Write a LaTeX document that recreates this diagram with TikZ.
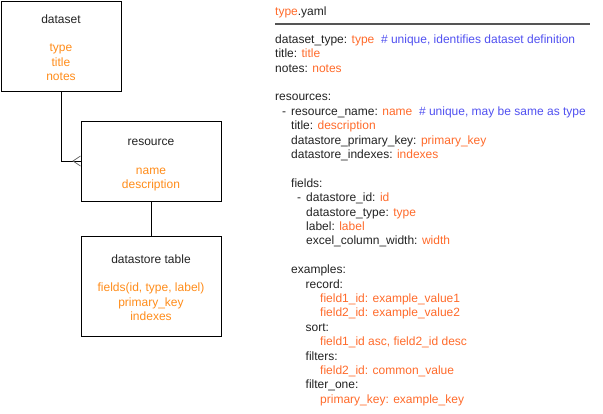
\documentclass[tikz,border=0pt]{standalone}
\usepackage{fontspec}
\setmainfont{Liberation Sans}
\usetikzlibrary{calc}
\definecolor{boxor}{HTML}{FF8C1A}
\definecolor{yor}{HTML}{FF6A2A}
\definecolor{yblue}{HTML}{5050F0}
\definecolor{ink}{HTML}{222222}
\definecolor{rule}{HTML}{555555}
\newcommand{\Or}[1]{\textcolor{yor}{#1}}
\newcommand{\Bl}[1]{\textcolor{yblue}{#1}}
\newcommand{\Dash}{\makebox[9pt][l]{-}}
\begin{document}
\begin{tikzpicture}[x=1pt,y=-1pt,
  box/.style={draw=black,line width=1pt,inner sep=0pt},
  btxt/.style={anchor=base,inner sep=0pt,font=\fontsize{12}{14.4}\selectfont,text=ink},
  bor/.style={btxt,text=boxor},
  yl/.style={anchor=base west,inner sep=0pt,font=\fontsize{12}{14.4}\selectfont,text=ink},
  conn/.style={draw=black,line width=1pt},
  crow/.style={draw=black!60,line width=0.8pt}]
\useasboundingbox (0,0) rectangle (603,413);

% boxes
\node[box,minimum width=120pt,minimum height=90pt] (dataset) at (61,46) {};
\node[box,minimum width=140pt,minimum height=80pt] (resource) at (151,161) {};
\node[box,minimum width=140pt,minimum height=100pt] (dstable) at (151,286) {};

% box texts
\node[btxt] (t1) at (61,23) {dataset};
\node[bor] (t2) at (61,51.8) {type};
\node[bor] (t3) at (61,66.2) {title};
\node[bor] (t4) at (61,80.6) {notes};

\node[btxt] (r1) at (151,145.2) {resource};
\node[bor] (r2) at (151,174) {name};
\node[bor] (r3) at (151,188.4) {description};

\node[btxt] (d1) at (151,263) {datastore table};
\node[bor] (d2) at (151,291.8) {fields(id, type, label)};
\node[bor] (d3) at (151,306.2) {primary\_key};
\node[bor] (d4) at (151,320.6) {indexes};

% connectors
\draw[conn] (dataset.south) |- (resource.west);
\coordinate (cfa) at ($(resource.west)+(-7.5,0)$);
\coordinate (cfb) at ($(resource.west)+(0,-5)$);
\coordinate (cfc) at ($(resource.west)+(0,5)$);
\draw[crow] (cfb) -- (cfa) -- (cfc);
\draw[conn] (resource.south) -- (dstable.north);

% yaml text
\node[yl] (y0) at (275,15) {\Or{type}.yaml};
\coordinate (hl) at (275,24);
\coordinate (hr) at (590,24);
\draw[rule,line width=1.3pt] (hl) -- (hr);

\node[yl] (l0) at (275,43.3) {dataset\_type: \Or{type}~~\Bl{\# unique, identifies dataset definition}};
\node[yl] (l1) at (275,57.7) {title: \Or{title}};
\node[yl] (l2) at (275,72.1) {notes: \Or{notes}};
\node[yl] (l4) at (275,100.9) {resources:};
\node[yl] (l5) at (282,115.3) {\Dash resource\_name: \Or{name}~~\Bl{\# unique, may be same as type}};
\node[yl] (l6) at (291,129.7) {title: \Or{description}};
\node[yl] (l7) at (291,144.1) {datastore\_primary\_key: \Or{primary\_key}};
\node[yl] (l8) at (291,158.5) {datastore\_indexes: \Or{indexes}};
\node[yl] (l10) at (291,187.3) {fields:};
\node[yl] (l11) at (297,201.7) {\Dash datastore\_id: \Or{id}};
\node[yl] (l12) at (306,216.1) {datastore\_type: \Or{type}};
\node[yl] (l13) at (306,230.5) {label: \Or{label}};
\node[yl] (l14) at (306,244.9) {excel\_column\_width: \Or{width}};
\node[yl] (l16) at (291,273.7) {examples:};
\node[yl] (l17) at (305.5,288.1) {record:};
\node[yl] (l18) at (320,302.5) {\Or{field1\_id: example\_value1}};
\node[yl] (l19) at (320,316.9) {\Or{field2\_id: example\_value2}};
\node[yl] (l20) at (305.5,331.3) {sort:};
\node[yl] (l21) at (320,345.7) {\Or{field1\_id asc, field2\_id desc}};
\node[yl] (l22) at (305.5,360.1) {filters:};
\node[yl] (l23) at (320,374.5) {\Or{field2\_id: common\_value}};
\node[yl] (l24) at (305.5,388.9) {filter\_one:};
\node[yl] (l25) at (320,403.3) {\Or{primary\_key: example\_key}};
\end{tikzpicture}
\end{document}
